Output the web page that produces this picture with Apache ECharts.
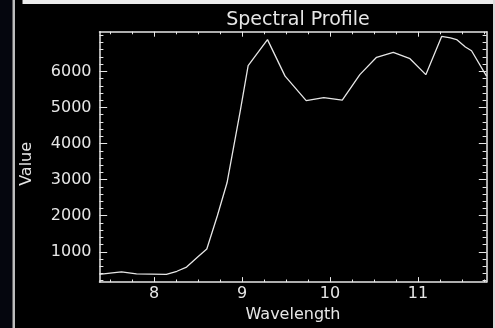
<!DOCTYPE html>
<html>
<head>
<meta charset="utf-8">
<script src="https://cdn.jsdelivr.net/npm/echarts@6/dist/echarts.min.js"></script>
<style>
  html, body { margin: 0; padding: 0; background: #000; }
  #chart { width: 495px; height: 328px; }
</style>
</head>
<body>
<div id="chart"></div>
<script>
// spectral profile
const wavelength = [7.38, 7.50, 7.63, 7.80, 8.14, 8.26, 8.37, 8.49, 8.60, 8.72, 8.83, 8.98, 9.07, 9.29,
  9.49, 9.73, 9.93, 10.14, 10.34, 10.53, 10.72, 10.91, 11.09, 11.27, 11.37, 11.44, 11.54, 11.61, 11.78];
const values = [373, 410, 444, 386, 373, 460, 577, 841, 1079, 2000, 2913, 4900, 6159, 6881,
  5868, 5188, 5275, 5206, 5910, 6390, 6529, 6352, 5910, 6968, 6926, 6881, 6677, 6571, 5868];

const xMajor = [8, 9, 10, 11];
const xMinor = [7.5, 7.75, 8.25, 8.5, 8.75, 9.25, 9.5, 9.75, 10.25, 10.5, 10.75, 11.25, 11.5, 11.75];
const yMajor = [1000, 2000, 3000, 4000, 5000, 6000];
const yMinor = [200, 400, 600, 800, 1200, 1400, 1600, 1800, 2200, 2400, 2600, 2800, 3200, 3400, 3600, 3800,
  4200, 4400, 4600, 4800, 5200, 5400, 5600, 5800, 6200, 6400, 6600, 6800, 7000];

const fg = '#e6e6e6';
const font = 'DejaVu Sans';

const chart = echarts.init(document.getElementById('chart'), null, { renderer: 'canvas' });

// one axis per tick set, so major and minor ticks can have their own length
function axis(pos, ticks, len, opts) {
  return Object.assign({
    type: 'value',
    position: pos,
    min: pos === 'bottom' || pos === 'top' ? 7.38 : 160,
    max: pos === 'bottom' || pos === 'top' ? 11.78 : 7100,
    splitLine: { show: false },
    axisLine: { show: false },
    axisTick: { show: true, inside: true, length: len, customValues: ticks, lineStyle: { color: fg, width: 1 } },
    axisLabel: { show: false }
  }, opts || {});
}

const frameLine = { show: true, onZero: false, lineStyle: { color: fg, width: 1.5 } };
const plain = v => String(v);

const option = {
  backgroundColor: '#000',
  animation: false,
  title: {
    text: 'Spectral Profile',
    left: 293,
    textAlign: 'center',
    top: 6,
    textStyle: { color: fg, fontFamily: font, fontSize: 19, fontWeight: 'normal' }
  },
  grid: { left: 99.5, right: 8.5, top: 31.7, bottom: 34 },
  xAxis: [
    axis('bottom', xMajor, 5, {
      axisLine: frameLine,
      axisLabel: { show: true, customValues: xMajor, formatter: plain, margin: 4, color: fg, fontFamily: font, fontSize: 16 },
      name: 'Wavelength',
      nameLocation: 'middle',
      nameGap: 15,
      nameTextStyle: { color: fg, fontFamily: font, fontSize: 16 }
    }),
    axis('bottom', xMinor, 2.6),
    axis('top', xMajor, 5, { axisLine: frameLine }),
    axis('top', xMinor, 2.6)
  ],
  yAxis: [
    axis('left', yMajor, 7.7, {
      axisLine: frameLine,
      axisLabel: { show: true, customValues: yMajor, formatter: plain, margin: 8, color: fg, fontFamily: font, fontSize: 16 },
      name: 'Value',
      nameLocation: 'middle',
      nameGap: 65,
      // the name sits a little below the middle of the axis
      nameTextStyle: { color: fg, fontFamily: font, fontSize: 16, padding: [0, 14, 0, 0] }
    }),
    axis('left', yMinor, 3.9),
    axis('right', yMajor, 7.7, { axisLine: frameLine }),
    axis('right', yMinor, 3.9)
  ],
  series: [{
    type: 'line',
    xAxisIndex: 0,
    yAxisIndex: 0,
    data: wavelength.map((w, i) => [w, values[i]]),
    showSymbol: false,
    clip: true,
    lineStyle: { color: fg, width: 1.3 }
  }],
  // window frame pieces around the plot
  graphic: [
    { type: 'rect', shape: { x: 0, y: 0, width: 12.5, height: 328 }, style: { fill: '#05060e' } },
    { type: 'rect', shape: { x: 12.5, y: 0, width: 2.5, height: 328 }, style: { fill: '#bdbdbd' } },
    { type: 'rect', shape: { x: 22.5, y: 0, width: 472.5, height: 4 }, style: { fill: '#ececec' } },
    { type: 'rect', shape: { x: 493, y: 0, width: 2, height: 328 }, style: { fill: '#d8d8d8' } }
  ]
};

chart.setOption(option);
</script>
</body>
</html>
